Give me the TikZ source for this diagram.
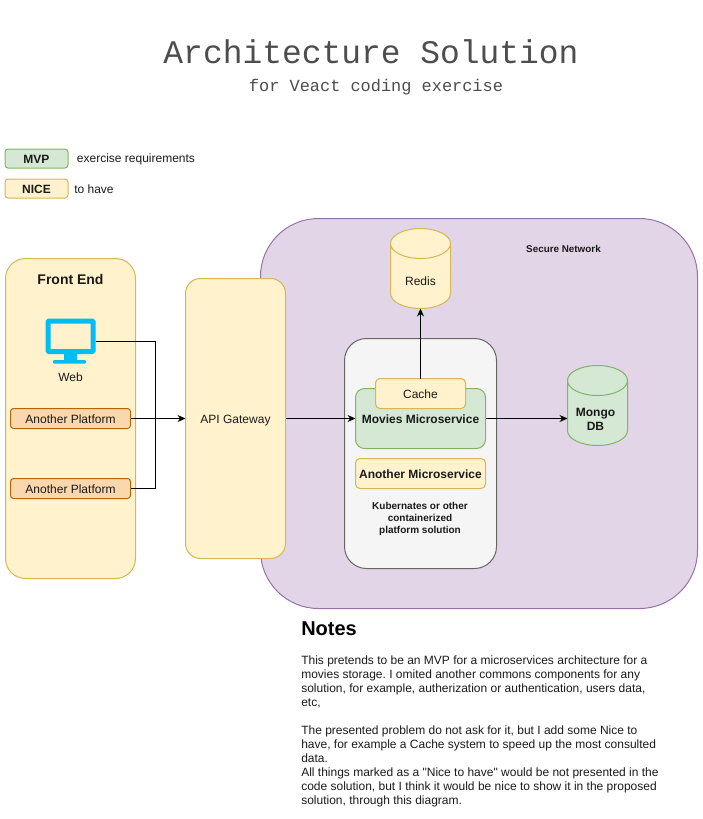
\documentclass[tikz,border=0pt]{standalone}
\usepackage{fontspec}
\setmainfont{Liberation Sans}[Ligatures=TeXOff]
\setmonofont{Liberation Mono}
\usetikzlibrary{shapes.geometric,arrows.meta}
\def\px{0.75pt}
\frenchspacing
\definecolor{yellowfill}{HTML}{FFF2CC}
\definecolor{yellowline}{HTML}{D6B656}
\definecolor{greenfill}{HTML}{D5E8D4}
\definecolor{greenline}{HTML}{82B366}
\definecolor{purplefill}{HTML}{E1D5E7}
\definecolor{purpleline}{HTML}{9673A6}
\definecolor{orangefill}{HTML}{FAD7AC}
\definecolor{orangeline}{HTML}{B46504}
\definecolor{greyfill}{HTML}{F5F5F5}
\definecolor{greyline}{HTML}{666666}
\definecolor{webblue}{HTML}{00BEF2}
\definecolor{textgrey}{HTML}{1A1A1A}
\definecolor{titlegrey}{HTML}{4D4D4D}
\tikzset{
  box/.style n args={3}{draw,rectangle,inner sep=0pt,outer sep=0pt,line width=\px,
    minimum width=#1*\px,minimum height=#2*\px,rounded corners=#3*\px,
    align=center,text=textgrey,text height=8pt,text depth=0pt,font=\fontsize{9}{10.5}\selectfont},
  yellowbox/.style={draw=yellowline,fill=yellowfill},
  greenbox/.style={draw=greenline,fill=greenfill},
  orangebox/.style={draw=orangeline,fill=orangefill},
  dbase/.style={draw,cylinder,shape border rotate=90,aspect=1,anchor=south,inner sep=0pt,outer sep=0pt,
    line width=\px,minimum width=60*\px,minimum height=80*\px,text width=30*\px},
  label/.style={inner sep=0pt,align=center,text=textgrey,font=\fontsize{9}{10.5}\selectfont},
  link/.style={line width=\px,-{Stealth[length=8*\px,width=7*\px]}},
  joint/.style={line width=\px}
}
\begin{document}
\begin{tikzpicture}[x=0.75pt,y=-0.75pt]
\useasboundingbox (0,0) rectangle (703,819);
\node[label,text=titlegrey,font=\ttfamily\fontsize{24.7}{28}\selectfont] (Title) at (371,52) {Architecture Solution};
\node[label,text=titlegrey,font=\ttfamily\fontsize{12.7}{15}\selectfont] (Sub) at (376,87) {for Veact coding exercise};

\node[box={63}{19}{3},greenbox,font=\fontsize{9}{10.5}\bfseries] (MVP) at (36.5,158.5) {MVP};
\node[box={63}{19}{3},yellowbox,font=\fontsize{9}{10.5}\bfseries] (NICE) at (36.5,188.5) {NICE};
\node[label] (MVPtext) at (136,159) {exercise requirements};
\node[label] (NICEtext) at (94,189) {to have};

\node[box={437}{390}{58},draw=purpleline,fill=purplefill] (Secure) at (479,413.5) {};
\node[label,font=\fontsize{7.4}{9}\bfseries] (SecureText) at (563.5,249) {Secure Network};

\node[box={130}{320}{20},yellowbox] (Front) at (70.5,418.5) {};
\node[label,font=\fontsize{10.5}{12}\bfseries] (FrontText) at (70.5,279) {Front End};
\node[minimum width=50*\px,minimum height=44*\px,inner sep=0pt,outer sep=0pt] (Web) at (70.5,341) {};
\draw[webblue,line width=5*\px,rounded corners=1*\px] (48,321) rectangle (93,351.5);
\fill[webblue] (64,353) rectangle (77,361);
\fill[webblue,rounded corners=1*\px] (53,360) rectangle (86,363.5);
\node[label] (WebText) at (70.5,377) {Web};
\node[box={120}{20}{3},orangebox] (PlatA) at (70.5,418.5) {Another Platform};
\node[box={120}{20}{3},orangebox] (PlatB) at (70.5,488.5) {Another Platform};

\node[box={100}{280}{15},yellowbox] (API) at (235.5,418.5) {API Gateway};

\node[box={152}{230}{22},draw=greyline,fill=greyfill] (Kube) at (420.5,453.5) {};
\node[box={130}{60}{9},greenbox,font=\fontsize{9}{10.5}\bfseries] (Movies) at (420.5,418.5) {Movies Microservice};
\node[box={90}{30}{4.5},yellowbox] (Cache) at (420.5,393.5) {Cache};
\node[box={130}{30}{4.5},yellowbox,font=\fontsize{9}{10.5}\bfseries] (Another) at (420.5,473.5) {Another Microservice};
\node[label,font=\fontsize{7.5}{9}\bfseries] (KubeText) at (420,519) {Kubernates or other\\containerized\\platform solution};

\node[dbase,draw=yellowline,fill=yellowfill] (Redis) at (420.5,308.5) {};
\node[label] (RedisText) at (420.5,281.5) {Redis};
\node[dbase,draw=greenline,fill=greenfill] (Mongo) at (597.5,445.5) {};
\node[label,font=\fontsize{9}{10.5}\bfseries] (MongoText) at (595.5,419) {Mongo\\DB};

\draw[joint] (Web.east) -- (155.5,341) -- (155.5,418.5);
\draw[joint] (PlatB.east) -- (155.5,488.5) -- (155.5,418.5);
\draw[link] (PlatA.east) -- (API.west);
\draw[link] (API.east) -- (Movies.west);
\draw[link] (Movies.east) -- (Mongo.west |- Movies.east);
\draw[link] (Cache.north) -- (Redis.south);

\node[label,anchor=west,text=black,font=\fontsize{15}{18}\bfseries] (Notes) at (301,629) {Notes};
\node[label,anchor=north west,align=left,font=\fontsize{9}{10.5}\selectfont] (NotesText) at (301,656) {This pretends to be an MVP for a microservices architecture for a\\
movies storage. I omited another commons components for any\\
solution, for example, autherization or authentication, users data,\\
etc,\\[10.5pt]
The presented problem do not ask for it, but I add some Nice to\\
have, for example a Cache system to speed up the most consulted\\
data.\\
All things marked as a "Nice to have" would be not presented in the\\
code solution, but I think it would be nice to show it in the proposed\\
solution, through this diagram.};
\end{tikzpicture}
\end{document}
